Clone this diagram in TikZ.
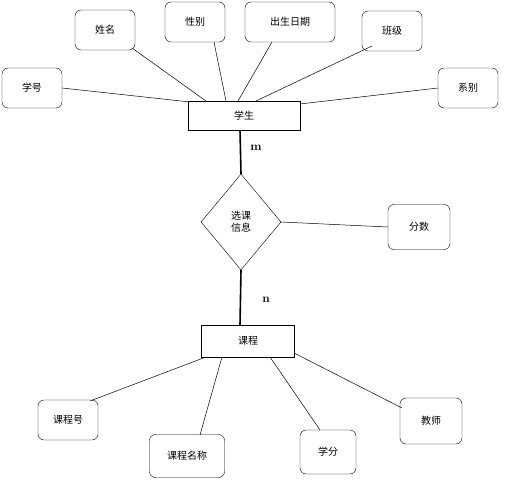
\documentclass[tikz,border=0pt]{standalone}
\usepackage{fontspec}
\newfontfamily\cjk{Noto Sans CJK SC}
\usetikzlibrary{shapes.geometric}
\begin{document}
\begin{tikzpicture}[x=1pt,y=-1pt,
 attr/.style={draw,rounded corners=6pt,minimum width=60pt,minimum height=40pt,font=\cjk\normalsize},
 ent/.style={draw,minimum height=29pt,font=\cjk\normalsize},
 ln/.style={line width=0.5pt},
 thk/.style={line width=1.6pt}]
\useasboundingbox (0,0) rectangle (512,500);
\node[ent,minimum width=112pt] (stu) at (244,115.5) {学生};
\node[attr] (xh) at (32,88) {学号};
\node[attr] (xm) at (105,30) {姓名};
\node[attr] (xb) at (195,22) {性别};
\node[attr,minimum width=90pt] (cs) at (290,22) {出生日期};
\node[attr] (bj) at (392,31) {班级};
\node[attr] (xi) at (468,88) {系别};
\draw[ln] (xh.east) -- (190,102);
\draw[ln] (132,48) -- (206,101);
\draw[ln] (214,42) -- (226,101);
\draw[ln] (272,42) -- (238,101);
\draw[ln] (372,46) -- (256,101);
\draw[ln] (xi.west) -- (300,104);
\node[diamond,draw,minimum width=80pt,minimum height=96pt,inner sep=0pt,align=center,font=\cjk\normalsize] (xk) at (241,222) {选课\\信息};
\node[attr,minimum width=62pt,minimum height=45pt] (fs) at (419,227) {分数};
\draw[ln] (xk.east) -- (fs.west);
\node[ent,minimum width=93pt,minimum height=32pt] (kc) at (248,341) {课程};
\draw[thk] (240,130) -- (xk.north);
\draw[thk] (xk.south) -- (240,325);
\node[font=\large\bfseries] (m) at (256,148) {m};
\node[font=\large\bfseries] (n) at (266,300) {n};
\node[attr] (kh) at (68,420) {课程号};
\node[attr,minimum width=75pt,minimum height=43pt] (km) at (187,456) {课程名称};
\node[attr,minimum width=56pt,minimum height=44pt] (xf) at (328,452) {学分};
\node[attr,minimum width=62pt,minimum height=46pt] (js) at (431,421) {教师};
\draw[ln] (90,401) -- (206,357);
\draw[ln] (200,435) -- (222,357);
\draw[ln] (320,430) -- (270,357);
\draw[ln] (402,408) -- (294,353);
\end{tikzpicture}
\end{document}
